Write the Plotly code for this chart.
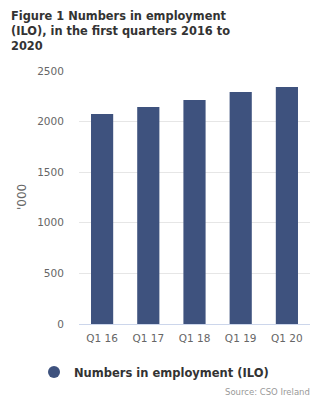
import plotly.graph_objects as go

categories = ["Q1 16", "Q1 17", "Q1 18", "Q1 19", "Q1 20"]
employment = [2075, 2144, 2213, 2292, 2342]
series_name = "Numbers in employment (ILO)"
title_text = "Figure 1 Numbers in employment<br>(ILO), in the first quarters 2016 to<br>2020"
y_title = "'000"
source_text = "Source: CSO Ireland"
y_ticks = [0, 500, 1000, 1500, 2000, 2500]

bar_color = "#3e527e"
font_family = "DejaVu Sans, Verdana, sans-serif"

# plot area in pixels (for placing annotations in paper coordinates)
PL, PR, PT, PB = 79, 310, 71, 324
PW, PH = PR - PL, PB - PT

def px_x(x):
    return (x - PL) / PW

def px_y(y):
    return (PB - y) / PH

fig = go.Figure()
fig.add_trace(go.Bar(
    x=categories, y=employment, marker_color=bar_color,
    marker_line_width=0, showlegend=False, hoverinfo="x+y",
))
fig.add_trace(go.Scatter(
    x=[None], y=[None], mode="markers", name=series_name,
    marker=dict(symbol="circle", size=12, color=bar_color),
    showlegend=True,
))

fig.update_layout(
    width=320, height=400,
    margin=dict(l=PL, r=320 - PR, t=PT, b=400 - PB),
    paper_bgcolor="white", plot_bgcolor="white",
    font=dict(family=font_family, color="#666666", size=10),
    bargap=0.52,
    xaxis=dict(
        type="category", showgrid=False, showline=True, linecolor="#ccd6eb",
        linewidth=1, ticks="outside", ticklen=4, tickcolor="rgba(0,0,0,0)",
        tickfont=dict(size=10.5, color="#666666"),
        fixedrange=True,
    ),
    yaxis=dict(
        range=[0, 2500], tickvals=y_ticks, showgrid=True, gridcolor="#e6e6e6",
        gridwidth=1, zeroline=False, showline=False,
        ticks="outside", ticklen=12, tickcolor="rgba(0,0,0,0)",
        tickfont=dict(size=10.5, color="#666666"),
        fixedrange=True,
    ),
    legend=dict(
        orientation="h", x=px_x(154), xanchor="center",
        y=px_y(372), yanchor="middle",
        font=dict(family=font_family, size=11.5, color="#333333", weight="bold"),
        itemclick=False, itemdoubleclick=False,
    ),
    annotations=[
        dict(
            text=title_text, xref="paper", yref="paper",
            x=px_x(9), xanchor="left", y=px_y(7), yanchor="top", align="left",
            showarrow=False,
            font=dict(family=font_family, size=11.4, color="#333333", weight="bold"),
        ),
        dict(
            text=y_title, xref="paper", yref="paper", textangle=-90,
            x=px_x(22), xanchor="center", y=px_y(197), yanchor="middle",
            showarrow=False, font=dict(family=font_family, size=12, color="#666666"),
        ),
        dict(
            text=source_text, xref="paper", yref="paper",
            x=px_x(312), xanchor="right", y=px_y(392), yanchor="middle",
            showarrow=False, font=dict(family=font_family, size=8.5, color="#999999"),
        ),
    ],
)

fig.write_html("out.html", config={"displayModeBar": False})
